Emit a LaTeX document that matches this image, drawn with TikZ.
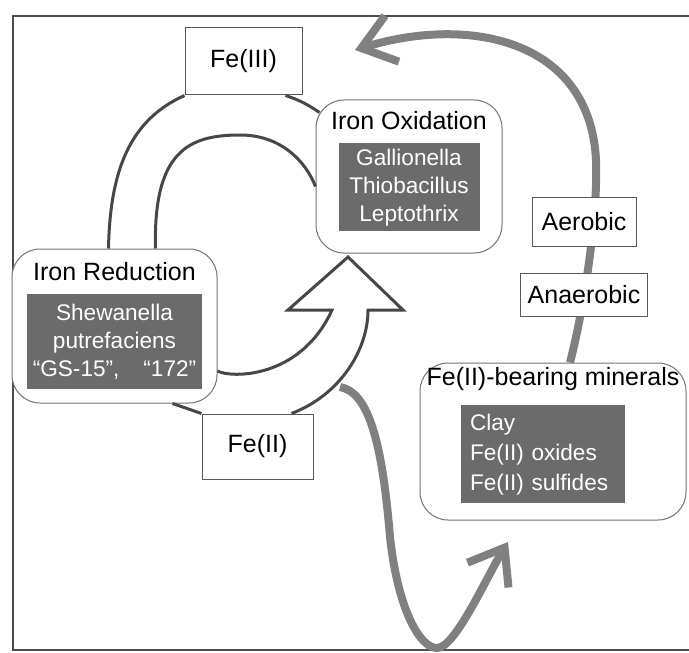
\documentclass[tikz,border=0pt]{standalone}
\usepackage{fontspec}
\setmainfont{Liberation Sans}
\usetikzlibrary{positioning,arrows.meta,calc,backgrounds}

\begin{document}
\begin{tikzpicture}[
  x=0.5pt, y=-0.5pt,
  tagbox/.style={rectangle, draw=black!65, line width=0.5pt, fill=white, inner sep=0pt, font=\fontsize{12.5}{15}\selectfont},
  process/.style={rectangle, draw=black!55, line width=0.5pt, rounded corners=14pt, fill=white, inner sep=0pt},
  heading/.style={inner sep=0pt, text height=1.5ex, text depth=.25ex, font=\fontsize{12.5}{15}\selectfont},
  species/.style={rectangle, fill=black!58, text=white, inner sep=0pt, align=center, font=\fontsize{11.3}{14}\selectfont},
  loopline/.style={draw=black!72, line width=1.5pt, line join=miter},
  flow/.style={draw=black!50, line width=4pt, -{Straight Barb[length=16pt,width=24pt]}},
]
  \useasboundingbox (0,0) rectangle (689,652);

  % Iron species
  \node[tagbox, minimum width=58.5pt, minimum height=33.5pt] (feiii) at (243.5,61.5) {Fe(III)};
  \node[tagbox, minimum width=55.5pt, minimum height=32.5pt] (feii) at (257.5,446.5) {Fe(II)};

  % Processes with their organisms
  \node[process, minimum width=93pt, minimum height=76.5pt] (oxid) at (409,176.5) {};
  \node[heading, below=7pt of oxid.north] (oxidtitle) {Iron Oxidation};
  \node[species, below=5pt of oxidtitle, minimum width=70.5pt, minimum height=44pt] (oxidlist) {Gallionella\\Thiobacillus\\Leptothrix};

  \node[process, minimum width=102.5pt, minimum height=77pt] (red) at (114.5,326) {};
  \node[heading, below=8pt of red.north] (redtitle) {Iron Reduction};
  \node[species, below=5pt of redtitle, minimum width=87.5pt, minimum height=47.5pt] (redlist) {Shewanella\\putrefaciens\\``GS-15'',\hspace{12pt}``172''};

  % Minerals
  \node[process, minimum width=133pt, minimum height=78.5pt] (min) at (553,441.5) {};
  \node[heading, below=3.5pt of min.north] (mintitle) {Fe(II)-bearing minerals};
  \node[species, below=8pt of mintitle, xshift=-5pt, minimum width=82pt, minimum height=49pt, text width=73pt, align=left, font=\fontsize{11.3}{15}\selectfont] (minlist) {Clay\\Fe(II) oxides\\Fe(II) sulfides};

  % Conditions
  \node[tagbox, minimum width=52pt, minimum height=24.5pt] (aer) at (584,221.5) {Aerobic};
  \node[tagbox, below=13pt of aer, minimum width=63.5pt, minimum height=21.5pt] (anaer) {Anaerobic};

  % Redox cycle
  \draw[loopline] ($(red.north)+(-6,0)$) .. controls (110,170) and (130,120) .. (feiii.south west);
  \draw[loopline] ($(feiii.south east)+(-17,0)$) .. controls (300,100) and (310,106) .. ($(oxid.north west)+(4,13)$);
  \draw[loopline] ($(red.north)+(41,0)$) .. controls (153,150) and (190,135) .. (240,135)
    .. controls (280,135) and (305,160) .. ($(oxid.west)+(0,10)$);
  \draw[loopline] ($(red.south)+(58,0)$) -- (feii.north west);
  \draw[loopline] ($(red.east)+(0,45)$) .. controls (230,378) and (300,380) .. (332,310)
    -- (288,310) -- (348,257) -- (403,310) -- (368,310)
    .. controls (368,350) and (340,395) .. ($(feii.north east)+(-22,0)$);

  % Mineral pathways
  \coordinate (topend) at (355,50);
  \coordinate (spring) at (340,387);
  \coordinate (mintip) at (508,542);
  \begin{scope}[on background layer]
    \draw[black!70, line width=0.8pt] (689,16) -- (13,16) -- (13,650) -- (689,650);
    \draw[flow] ($(min.north)+(17,0)$) .. controls (586,300) and (598,210) .. (596,160)
      .. controls (590,40) and (470,15) .. (topend);
    \draw[flow] (spring) .. controls (368,392) and (382,440) .. (390,537)
      .. controls (398,610) and (420,648) .. (437,648)
      .. controls (455,648) and (485,580) .. (mintip);
  \end{scope}
\end{tikzpicture}
\end{document}
